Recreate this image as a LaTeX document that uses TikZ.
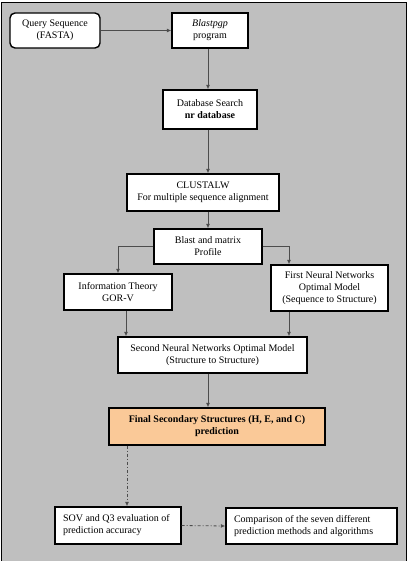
\documentclass[tikz,border=0pt]{standalone}
\usepackage{fontspec}
\setmainfont{Liberation Serif}
\usepackage{xcolor}
\usetikzlibrary{calc,arrows.meta}

\definecolor{panelgray}{RGB}{191,191,191}
\definecolor{finalorange}{RGB}{250,201,152}

\tikzset{
  stage/.style={draw=black,line width=1.4pt,fill=white,align=center,
    inner sep=2pt,font=\fontsize{10}{12}\selectfont},
  leftstage/.style={stage,align=left,anchor=west,inner sep=0pt},
  flow/.style={draw=black!70,line width=0.8pt,-{Latex[length=4.5pt,width=4pt]}},
  evalflow/.style={flow,dash pattern=on 3pt off 2pt on 1pt off 2pt}
}

\begin{document}
\begin{tikzpicture}[x=1pt,y=1pt]
\useasboundingbox (0,0) rectangle (410,-561);
%% panel
\fill[panelgray] (1.5,-2.5) rectangle (406.5,-561);
\draw[line width=1.2pt] (1.5,-561) -- (1.5,-2.5) -- (406.5,-2.5) -- (406.5,-561);

%% stages
\node[stage,rounded corners=5pt,minimum width=90,minimum height=35] (query) at (55,-30.5) {Query Sequence\\(FASTA)};
\node[stage,minimum width=76,minimum height=35] (blast) at (210,-30.5) {\textit{Blastpgp}\\program};
\node[stage,minimum width=94,minimum height=39] (dbsearch) at (210,-109.5) {Database Search\\\textbf{nr database}};
\node[stage,minimum width=152,minimum height=37] (clustal) at (203,-192.5) {CLUSTALW\\For multiple sequence alignment};
\node[stage,minimum width=108,minimum height=35] (profile) at (208,-246.5) {Blast and matrix\\Profile};
\node[stage,minimum width=108,minimum height=36] (info) at (118,-292) {Information Theory\\GOR-V};
\node[stage,minimum width=117,minimum height=46] (firstnn) at (329.5,-288) {First Neural Networks\\Optimal Model\\(Sequence to Structure)};
\node[stage,minimum width=189,minimum height=36] (secondnn) at (212.5,-355) {Second Neural Networks Optimal Model\\(Structure to Structure)};
\node[stage,fill=finalorange,minimum width=216,minimum height=37,font=\fontsize{10}{12}\selectfont\bfseries] (final) at (217,-426.5) {Final Secondary Structures (H, E, and C)\\prediction};
\node[stage,minimum width=126,minimum height=37] (sovbox) at (118,-525.5) {};
\node[leftstage,draw=none,fill=none] (sov) at ([xshift=8]sovbox.west) {SOV and Q3 evaluation of\\prediction accuracy};
\node[stage,minimum width=171,minimum height=36] (comparebox) at (311.5,-526) {};
\node[leftstage,draw=none,fill=none] (compare) at ([xshift=8]comparebox.west) {Comparison of the seven different\\prediction methods and algorithms};

%% connectors
\draw[flow] (query.east) -- (blast.west);
\draw[flow] ([xshift=-2]blast.south) -- ([xshift=-2]dbsearch.north);
\draw[flow] ([xshift=-2]dbsearch.south) -- ([xshift=-2]dbsearch.south |- clustal.north);
\draw[flow] (clustal.south -| profile.north) -- (profile.north);
\draw[flow] (profile.west) -| (info.north);
\draw[flow] (profile.east) -| ([xshift=-40.5]firstnn.north);
\draw[flow] ([xshift=8]info.south) -- ([xshift=8]info.south |- secondnn.north);
\draw[flow] ([xshift=-40.5]firstnn.south) -- ([xshift=-40.5]firstnn.south |- secondnn.north);
\draw[flow] ([xshift=-4.5]secondnn.south) -- ([xshift=-4.5]secondnn.south |- final.north);
\draw[evalflow] ([xshift=9]final.south -| sovbox.north) -- ([xshift=9]sovbox.north);
\draw[evalflow] (sovbox.east) -- (comparebox.west);
\end{tikzpicture}
\end{document}
